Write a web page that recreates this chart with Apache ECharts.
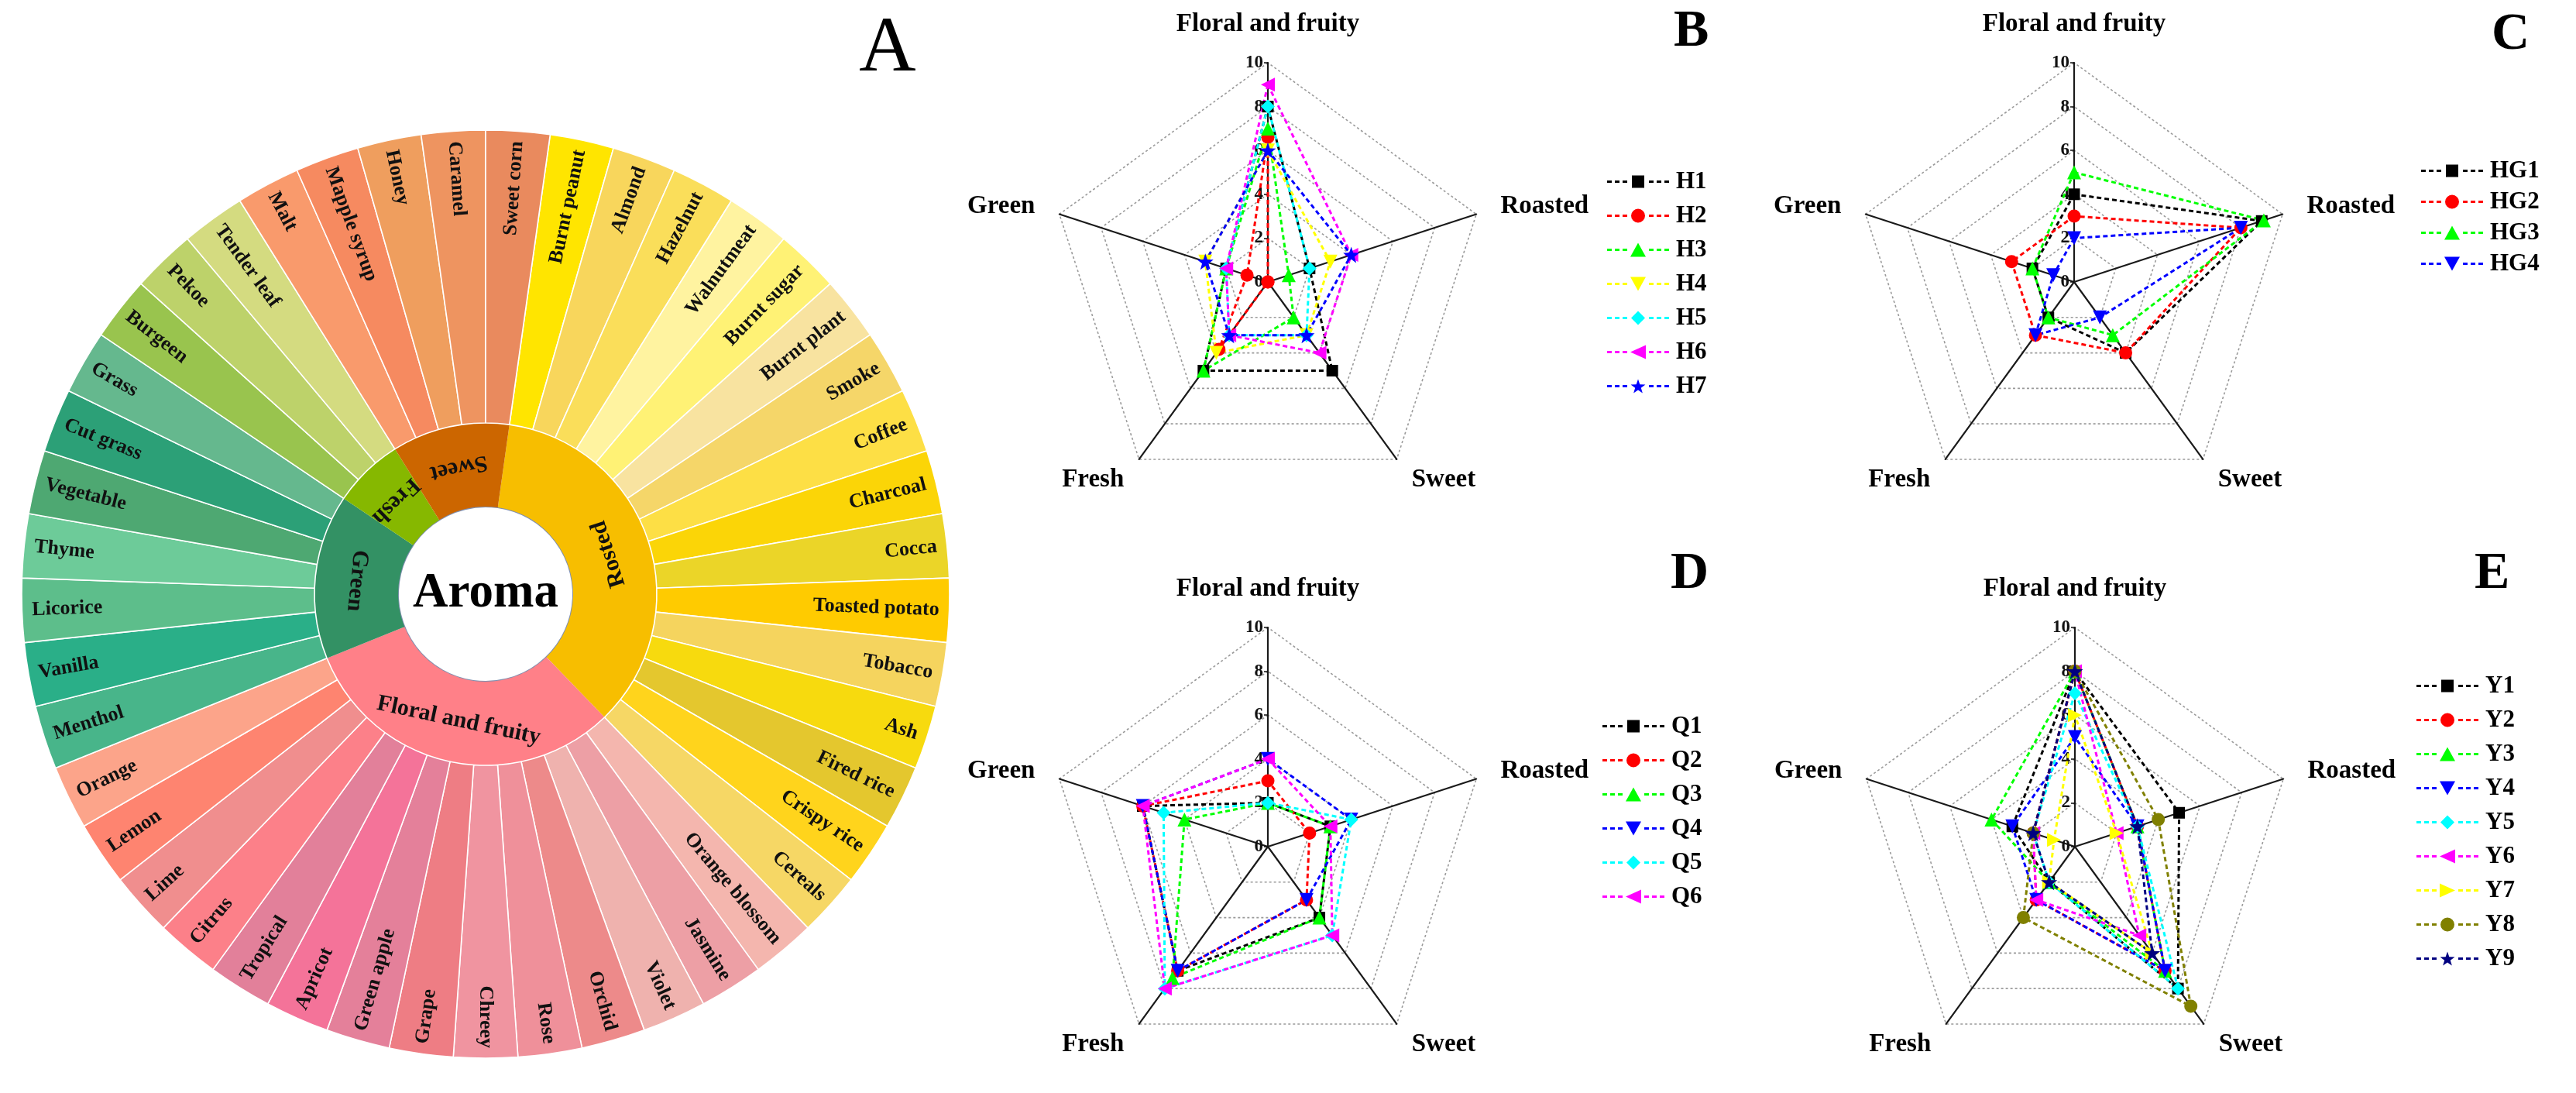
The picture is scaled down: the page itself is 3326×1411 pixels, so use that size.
<!DOCTYPE html>
<html>
<head>
<meta charset="utf-8">
<script src="https://cdn.jsdelivr.net/npm/echarts@6/dist/echarts.min.js"></script>
<style>
html,body{margin:0;padding:0;background:#fff;}
#chart{width:3326px;height:1411px;}
</style>
</head>
<body>
<div id="chart"></div>
<script>
// ---------------- DATA ----------------
// Panel A: aroma wheel (inner categories and their notes, every note weight 1)
const innerCategories = ['Rosted', 'Floral and fruity', 'Green', 'Fresh', 'Sweet'];
const roastedNotes = ['Burnt peanut','Almond','Hazelnut','Walnutmeat','Burnt sugar','Burnt plant','Smoke','Coffee','Charcoal','Cocca','Toasted potato','Tobacco','Ash','Fired rice','Crispy rice','Cereals'];
const floralNotes = ['Orange blossom','Jasmine','Violet','Orchid','Rose','Chreey','Grape','Green apple','Apricot','Tropical','Citrus','Lime','Lemon','Orange'];
const greenNotes = ['Menthol','Vanilla','Licorice','Thyme','Vegetable','Cut grass','Grass'];
const freshNotes = ['Burgeen','Pekoe','Tender leaf'];
const sweetNotes = ['Malt','Mapple syrup','Honey','Caramel','Sweet corn'];
const noteWeight = 1;
const centerName = 'Aroma';

// Radar panels: axes in reading order (Floral, Roasted, Sweet, Fresh, Green)
const radarAxes = ['Floral and fruity', 'Roasted', 'Sweet', 'Fresh', 'Green'];
const radarTicks = [0, 2, 4, 6, 8, 10];

const hNames = ['H1','H2','H3','H4','H5','H6','H7'];
const hValues = [
  [8, 2, 5, 5, 2],
  [6.6, 0, 0, 3.8, 1],
  [7, 1, 2, 5, 2],
  [6, 3, 3, 4, 3],
  [8, 2, 3, 3, 2],
  [9, 4, 4, 3, 2],
  [6, 4, 3, 3, 3]
];
const hgNames = ['HG1','HG2','HG3','HG4'];
const hgValues = [
  [4, 9, 4, 2, 2],
  [3, 8, 4, 3, 3],
  [5, 9.1, 3, 2, 2],
  [2, 8, 2, 3, 1]
];
const qNames = ['Q1','Q2','Q3','Q4','Q5','Q6'];
const qValues = [
  [2, 3, 4, 7, 6],
  [3, 2, 3, 7, 6],
  [2, 3, 4, 7.4, 4],
  [4, 4, 3, 7, 6],
  [2, 4, 5, 8, 5],
  [4, 3, 5, 8, 6]
];
const yNames = ['Y1','Y2','Y3','Y4','Y5','Y6','Y7','Y8','Y9'];
const yValues = [
  [8, 5, 8, 2, 3],
  [8, 3, 7, 3, 2],
  [8, 3, 7, 2, 4],
  [5, 3, 7, 3, 3],
  [7, 3, 8, 2, 2],
  [8, 2, 5, 3, 2],
  [6, 2, 6, 2, 1],
  [8, 4, 9, 4, 2],
  [8, 3, 6, 2, 2]
];

// ---------------- STYLE ----------------
const serif = '"Liberation Serif", "Times New Roman", serif';
const innerColors = ['#F7BE00', '#FF8088', '#339164', '#86B800', '#CC6600'];
const roastedColors = ['#FFE500','#F8D65C','#FADE5A','#FFF3A0','#FFF275','#F8E3A0','#F5D669','#FDDF45','#FBD507','#EBD528','#FFCB00','#F5D45E','#F7DA0E','#E4C72E','#FFD41C','#F6D765'];
const floralColors = ['#F4B6AE','#ED9FA5','#EFB2AE','#ED8A8A','#EF909A','#F094A0','#EE7D84','#E4809A','#F47399','#E2809A','#FC8089','#F08E8E','#FE8470','#FCA48A'];
const greenColors = ['#48B58A','#2AAF88','#5DBE8B','#6DCB99','#4EA872','#2CA077','#65B88E'];
const freshColors = ['#99C44E','#BDD26A','#D4DB80'];
const sweetColors = ['#F99A6C','#F68A60','#EF9E5E','#EE9460','#E98A5E'];

const leafGroups = [roastedNotes, floralNotes, greenNotes, freshNotes, sweetNotes];
const leafColorGroups = [roastedColors, floralColors, greenColors, freshColors, sweetColors];

const wheelStart = 82;
const totalLeaves = leafGroups.reduce((s, g) => s + g.length, 0);
let acc = 90 - wheelStart;
const wheelChildren = innerCategories.map((name, i) => {
  const n = leafGroups[i].length;
  const mid = acc + n * 360 / totalLeaves / 2;
  acc += n * 360 / totalLeaves;
  return {
    name: name,
    itemStyle: { color: innerColors[i] },
    label: { rotate: 180 - mid },
    children: leafGroups[i].map((leaf, j) => ({
      name: leaf, value: noteWeight, itemStyle: { color: leafColorGroups[i][j] }
    }))
  };
});

// marker shapes
function starPath(cx, cy, R) {
  const r = R * 0.4;
  let d = '';
  for (let k = 0; k < 10; k++) {
    const rad = (k % 2 === 0 ? R : r);
    const a = -Math.PI / 2 + k * Math.PI / 5;
    d += (k === 0 ? 'M' : 'L') + (cx + rad * Math.cos(a)).toFixed(2) + ',' + (cy + rad * Math.sin(a)).toFixed(2) + ' ';
  }
  return d + 'Z';
}
const seriesSymbols = {
  square: 'rect',
  circle: 'circle',
  up: 'triangle',
  down: 'path://M0,0 L2,0 L1,1.8 Z',
  diamond: 'diamond',
  left: 'path://M1.8,0 L1.8,2 L0,1 Z',
  right: 'path://M0,0 L0,2 L1.8,1 Z',
  star: 'path://' + starPath(10, 10, 10)
};
const symbolSizes = { square: 15, circle: 17, up: 18, down: 18, diamond: 18, left: 18, right: 18, star: 21 };

// legend icon: dashed line with the marker in the middle (80 x 18 box)
function legendIcon(shape) {
  let d = '';
  [0, 10, 20].forEach(x => { d += `M${x},7.5 L${x + 6},7.5 L${x + 6},10.5 L${x},10.5 Z `; });
  [54, 64, 74].forEach(x => { d += `M${x},7.5 L${x + 6},7.5 L${x + 6},10.5 L${x},10.5 Z `; });
  let m;
  switch (shape) {
    case 'square': m = 'M32,1 L48,1 L48,17 L32,17 Z M40,0 L40,0 Z M40,18 L40,18 Z'; break;
    case 'circle': m = 'M49,9 A9,9 0 1,1 31,9 A9,9 0 1,1 49,9 Z'; break;
    case 'up': m = 'M30,18 L50,18 L40,0 Z'; break;
    case 'down': m = 'M30,0 L50,0 L40,18 Z'; break;
    case 'diamond': m = 'M40,0 L49,9 L40,18 L31,9 Z'; break;
    case 'left': m = 'M50,0 L50,18 L30,9 Z'; break;
    case 'right': m = 'M30,0 L30,18 L50,9 Z'; break;
    case 'star': m = starPath(40, 9.95, 9.95); break;
  }
  return 'path://' + d + m;
}

const panelBStyles = [['#000000','square'],['#FF0000','circle'],['#00FF00','up'],['#FFFF00','down'],['#00FFFF','diamond'],['#FF00FF','left'],['#0000FF','star']];
const panelStyles = [['#000000','square'],['#FF0000','circle'],['#00FF00','up'],['#0000FF','down'],['#00FFFF','diamond'],['#FF00FF','left'],['#FFFF00','right'],['#808000','circle'],['#000080','star']];

const panels = [
  { names: hNames, values: hValues, styles: panelBStyles, center: [1637, 364], legend: [2070, 214, 13], letter: ['B', 2156, 2] },
  { names: hgNames, values: hgValues, styles: panelStyles, center: [2678, 364], legend: [3121, 200, 9], letter: ['C', 3212, 6] },
  { names: qNames, values: qValues, styles: panelStyles, center: [1637, 1093], legend: [2064, 917, 13], letter: ['D', 2152, 702] },
  { names: yNames, values: yValues, styles: panelStyles, center: [2679, 1093], legend: [3115, 865, 13], letter: ['E', 3190, 702] }
];

// ECharts radar indicators run counter-clockwise: Floral, Green, Fresh, Sweet, Roasted
const ccwOrder = [0, 4, 3, 2, 1];
const tickMax = radarTicks[radarTicks.length - 1];
const tickStep = radarTicks[1] - radarTicks[0];

const radars = panels.map(p => ({
  center: p.center,
  radius: 283,
  startAngle: 90,
  shape: 'polygon',
  splitNumber: tickMax / tickStep,
  axisNameGap: 33,
  axisName: { color: '#000', fontSize: 33, fontWeight: 'bold', fontFamily: serif },
  axisLine: { lineStyle: { color: '#1a1a1a', width: 2.2 } },
  splitLine: { lineStyle: { color: '#9a9a9a', width: 1.6, type: [3, 3] } },
  splitArea: { show: false },
  axisTick: { show: false },
  axisLabel: { show: false },
  indicator: ccwOrder.map((k, idx) => {
    const ind = { name: radarAxes[k], min: radarTicks[0], max: tickMax };
    if (idx === 0) {
      ind.axisLabel = { show: true, color: '#111', fontSize: 23, fontWeight: 'bold', fontFamily: serif, margin: 6, showMinLabel: true, showMaxLabel: true };
      ind.axisTick = { show: true, length: 5, lineStyle: { color: '#111', width: 1.5 } };
    }
    return ind;
  })
}));

const series = [];
panels.forEach((p, pi) => {
  p.names.forEach((nm, i) => {
    const [color, shape] = p.styles[i];
    series.push({
      type: 'radar',
      radarIndex: pi,
      name: nm,
      symbol: seriesSymbols[shape],
      symbolSize: symbolSizes[shape],
      symbolKeepAspect: true,
      z: 3,
      itemStyle: { color: color, borderWidth: 0 },
      lineStyle: { color: color, width: 3, type: [6, 4] },
      emphasis: { disabled: true },
      data: [{ name: nm, value: ccwOrder.map(k => p.values[i][k]) }]
    });
  });
});

series.push({
  type: 'sunburst',
  center: [627, 767],
  radius: [0, 599],
  startAngle: wheelStart,
  sort: null,
  nodeClick: false,
  emphasis: { disabled: true, focus: 'none' },
  data: [{ name: centerName, children: wheelChildren }],
  levels: [
    {},
    { r0: 0, r: 113, itemStyle: { color: '#ffffff', borderColor: '#8090b0', borderWidth: 2 },
      label: { rotate: 0, fontSize: 63, fontWeight: 'bold', color: '#000', fontFamily: serif } },
    { r0: 113, r: 221, itemStyle: { borderWidth: 0 },
      label: { fontSize: 30, fontWeight: 'bold', color: '#111', fontFamily: serif } },
    { r0: 221, r: 599, itemStyle: { borderColor: '#ffffff', borderWidth: 1.6 },
      label: { rotate: 'radial', align: 'right', distance: 13, fontSize: 26, fontWeight: 'bold', color: '#111', fontFamily: serif } }
  ]
});

const legends = panels.map(p => ({
  orient: 'vertical',
  left: p.legend[0],
  top: p.legend[1],
  itemGap: p.legend[2],
  itemWidth: 80,
  itemHeight: 18,
  selectedMode: false,
  textStyle: { color: '#000', fontSize: 31, fontWeight: 'bold', fontFamily: serif, padding: [0, 0, 0, 4] },
  itemStyle: { borderWidth: 0 },
  data: p.names.map((nm, i) => ({ name: nm, icon: legendIcon(p.styles[i][1]), itemStyle: { color: p.styles[i][0], borderWidth: 0 } }))
}));

const titles = [{ text: 'A', left: 1104, top: 8, textStyle: { fontSize: 102, fontWeight: 'normal', color: '#000', fontFamily: serif } }]
  .concat(panels.map(p => ({ text: p.letter[0], left: p.letter[1], top: p.letter[2], textStyle: { fontSize: 68, fontWeight: 'bold', color: '#000', fontFamily: serif } })));

const chart = echarts.init(document.getElementById('chart'), null, { renderer: 'canvas' });
chart.setOption({
  backgroundColor: '#ffffff',
  animation: false,
  title: titles,
  legend: legends,
  radar: radars,
  series: series
});
</script>
</body>
</html>
